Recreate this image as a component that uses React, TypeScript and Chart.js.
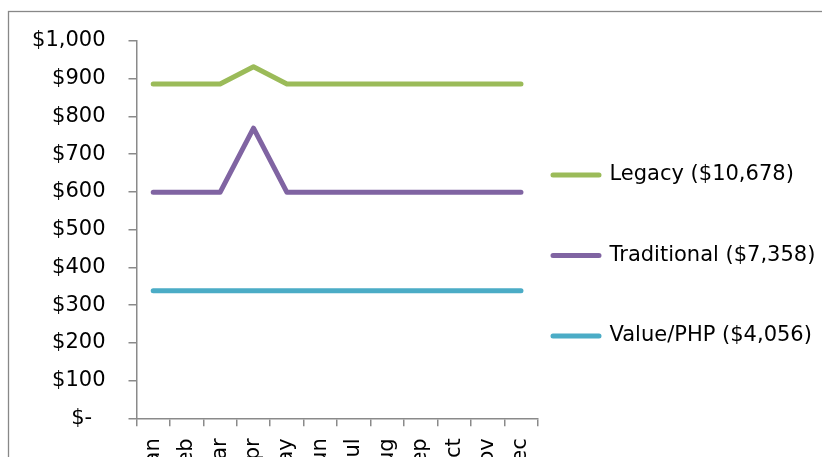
import React, { useEffect, useRef } from "react";
import { Chart, registerables } from "chart.js";

Chart.register(...registerables);

const MONTHS = ["Jan", "Feb", "Mar", "Apr", "May", "Jun", "Jul", "Aug", "Sep", "Oct", "Nov", "Dec"];
const LEGACY = [886, 886, 886, 932, 886, 886, 886, 886, 886, 886, 886, 886];
const TRADITIONAL = [599, 599, 599, 769, 599, 599, 599, 599, 599, 599, 599, 599];
const VALUE_PHP = [338, 338, 338, 338, 338, 338, 338, 338, 338, 338, 338, 338];
const SERIES_NAMES = ["Legacy ($10,678)", "Traditional ($7,358)", "Value/PHP ($4,056)"];
const SERIES_COLORS = ["#9BBB59", "#8064A2", "#4BACC6"];
const Y_MIN = 0;
const Y_MAX = 1000;
const Y_STEP = 100;

const FONT = "'DejaVu Sans', sans-serif";
const AXIS_COLOR = "#8a8a8a";

const CANVAS_W = 822;
const CANVAS_H = 480;
const AREA_LEFT = 136.5;
const AREA_RIGHT = 537.7;
const AREA_TOP = 41;
const AREA_BOTTOM = 418.3;
const LEGEND_BOX_X = 553;
const LEGEND_FIRST_Y = 175;
const LEGEND_PAD = 59.5;
const FONT_SIZE = 21;

const fmt = (v: number) => (v === 0 ? "$-  " : "$" + Number(v).toLocaleString("en-US"));

export default function App() {
  const ref = useRef<HTMLCanvasElement | null>(null);

  useEffect(() => {
    if (!ref.current) return;
    const seriesData = [LEGACY, TRADITIONAL, VALUE_PHP];
    const frame = {
      id: "frame",
      afterLayout(chart: any) {
        const lg = chart.legend;
        if (lg) {
          lg.left = LEGEND_BOX_X - LEGEND_PAD;
          lg.right = lg.left + 400;
          lg.top = LEGEND_FIRST_Y - FONT_SIZE / 2 - LEGEND_PAD;
          lg.bottom = lg.top + 1000;
        }
      },
      beforeDraw(chart: any) {
        const ctx = chart.ctx;
        ctx.save();
        ctx.fillStyle = "#ffffff";
        ctx.fillRect(0, 0, chart.width, chart.height);
        ctx.strokeStyle = "#888888";
        ctx.lineWidth = 1.3;
        ctx.strokeRect(8.5, 11.5, 1000, 1000);
        ctx.restore();
      },
    };
    const chart = new Chart(ref.current, {
      type: "line",
      data: {
        labels: MONTHS,
        datasets: SERIES_NAMES.map((name, i) => ({
          label: name,
          data: seriesData[i],
          borderColor: SERIES_COLORS[i],
          backgroundColor: SERIES_COLORS[i],
          borderWidth: 5,
          borderCapStyle: "round" as const,
          borderJoinStyle: "round" as const,
          pointRadius: 0,
          pointHoverRadius: 0,
          tension: 0,
          fill: false,
        })),
      },
      options: {
        responsive: false,
        animation: false,
        devicePixelRatio: 1,
        layout: { padding: { left: 0, top: AREA_TOP, right: 0, bottom: 0 } },
        font: { family: FONT, size: FONT_SIZE },
        plugins: {
          tooltip: { enabled: false },
          title: { display: false },
          legend: {
            display: true,
            position: "right",
            align: "start",
            maxWidth: CANVAS_W - AREA_RIGHT,
            labels: {
              boxWidth: 46,
              boxHeight: 0,
              padding: LEGEND_PAD,
              color: "#000000",
              font: { family: FONT, size: FONT_SIZE },
            },
          },
        },
        scales: {
          x: {
            type: "category",
            offset: true,
            afterFit: (s: any) => {
              s.height = CANVAS_H - AREA_BOTTOM;
            },
            grid: {
              offset: true,
              drawOnChartArea: false,
              drawTicks: true,
              tickLength: 8,
              color: AXIS_COLOR,
              lineWidth: 1.5,
            },
            border: { display: true, color: AXIS_COLOR, width: 1.5 },
            ticks: {
              autoSkip: false,
              minRotation: 90,
              maxRotation: 90,
              padding: 12,
              color: "#000000",
              font: { family: FONT, size: FONT_SIZE },
            },
          },
          y: {
            type: "linear",
            min: Y_MIN,
            max: Y_MAX,
            afterFit: (s: any) => {
              s.width = AREA_LEFT;
            },
            grid: {
              drawOnChartArea: false,
              drawTicks: true,
              tickLength: 8,
              color: AXIS_COLOR,
              lineWidth: 1.5,
            },
            border: { display: true, color: AXIS_COLOR, width: 1.5 },
            ticks: {
              stepSize: Y_STEP,
              padding: 23,
              color: "#000000",
              font: { family: FONT, size: FONT_SIZE },
              callback: (v: any) => fmt(Number(v)),
            },
          },
        },
      },
      plugins: [frame],
    });
    return () => chart.destroy();
  }, []);

  return (
    <div
      style={{
        position: "fixed",
        left: 0,
        top: 0,
        width: 822,
        height: 457,
        overflow: "hidden",
        background: "#ffffff",
      }}
    >
      <canvas ref={ref} width={CANVAS_W} height={CANVAS_H} style={{ display: "block" }} />
    </div>
  );
}
